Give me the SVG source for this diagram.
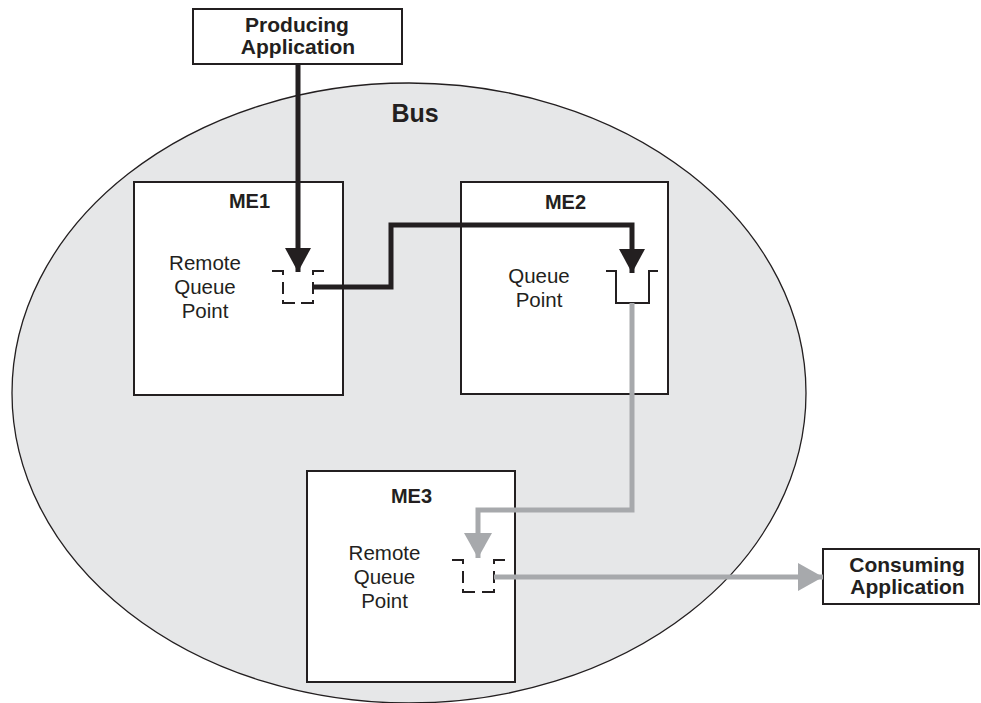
<svg xmlns="http://www.w3.org/2000/svg" width="981" height="703" viewBox="0 0 981 703">
<style>
.box{fill:#fff;stroke:#231f20;stroke-width:2}
.b{font-family:"Liberation Sans",Arial,sans-serif;font-weight:bold;fill:#231f20;text-anchor:middle}
.r{font-family:"Liberation Sans",Arial,sans-serif;font-size:20.5px;fill:#231f20;text-anchor:middle}
.sym{fill:none;stroke:#231f20;stroke-width:2}
.blk{fill:none;stroke:#231f20;stroke-width:5}
.gry{fill:none;stroke:#a7a9ac;stroke-width:5}
</style>
<defs>
<marker id="ab" markerUnits="userSpaceOnUse" markerWidth="28" markerHeight="26" refX="25" refY="13.5" orient="auto" viewBox="0 0 25 27">
<path d="M0,0 L25,13.5 L0,27 Z" fill="#231f20"/>
</marker>
<marker id="ag" markerUnits="userSpaceOnUse" markerWidth="26" markerHeight="28" refX="25" refY="14" orient="auto" viewBox="0 0 25 28">
<path d="M0,0 L25,14 L0,28 Z" fill="#a7a9ac"/>
</marker>
</defs>
<g id="bus">
<ellipse cx="409" cy="393" rx="397" ry="310" fill="#e6e7e8" stroke="#231f20" stroke-width="1.3"/>
<text class="b" x="415" y="122" font-size="25">Bus</text>
</g>
<g id="producing">
<rect class="box" x="193" y="9" width="209" height="55"/>
<text class="b" x="297" y="32" font-size="21">Producing</text>
<text class="b" x="298" y="54" font-size="21">Application</text>
</g>
<g id="me1">
<rect class="box" x="134" y="182" width="209" height="213"/>
<text class="b" x="249.5" y="208" font-size="20">ME1</text>
<text class="r" x="205" y="270">Remote</text>
<text class="r" x="205" y="294">Queue</text>
<text class="r" x="205" y="318">Point</text>
<path class="sym" d="M272,271 H283 V275 M283,282 V294 M283,300 V303 H295 M301,303 H313 V300 M313,282 V294 M313,275 V271 H324"/>
</g>
<g id="me2">
<rect class="box" x="461" y="182" width="207" height="212"/>
<text class="b" x="565.5" y="209" font-size="20">ME2</text>
<text class="r" x="539" y="283">Queue</text>
<text class="r" x="539" y="307">Point</text>
<path class="sym" d="M606,271 H616 V303 H649 V271 H658"/>
</g>
<g id="me3">
<rect class="box" x="307" y="471" width="208" height="211"/>
<text class="b" x="411.5" y="503" font-size="20">ME3</text>
<text class="r" x="384.5" y="560">Remote</text>
<text class="r" x="384.5" y="584">Queue</text>
<text class="r" x="384.5" y="608">Point</text>
<path class="sym" d="M452,560 H463 V564 M463,571 V583 M463,589 V592 H475 M482,592 H494 V589 M494,571 V583 M494,564 V560 H505"/>
</g>
<g id="consuming">
<rect class="box" x="823" y="549" width="156" height="55"/>
<text class="b" x="907" y="572" font-size="21">Consuming</text>
<text class="b" x="907.5" y="594" font-size="21">Application</text>
</g>
<g id="connectors">
<path class="blk" d="M298,64 V272" marker-end="url(#ab)"/>
<path class="blk" d="M313,287 H391 V225 H632 V273" marker-end="url(#ab)"/>
<path class="gry" d="M632,303 V510 H478 V558" marker-end="url(#ag)"/>
<path class="gry" d="M494,577 H823" marker-end="url(#ag)"/>
</g>
</svg>
